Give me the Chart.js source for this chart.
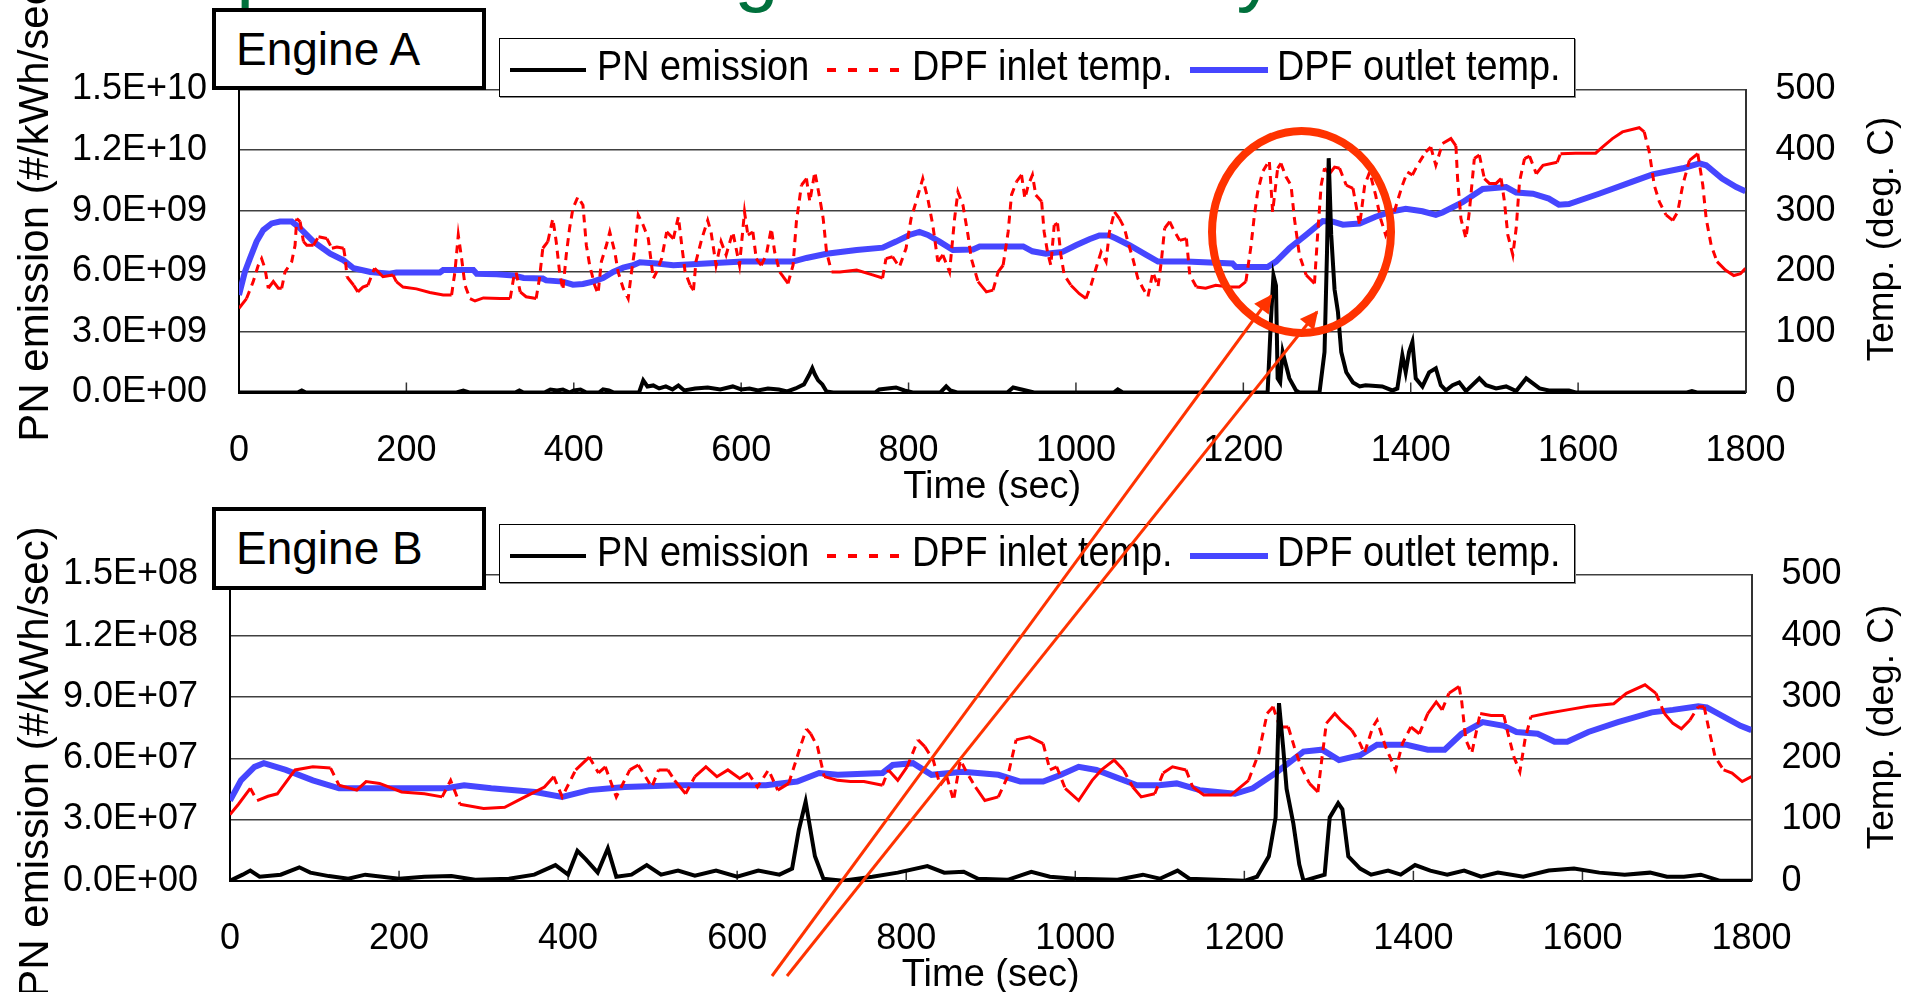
<!DOCTYPE html>
<html lang="en">
<head>
<meta charset="utf-8">
<title>PN emission and DPF temperatures</title>
<script src="https://cdn.jsdelivr.net/npm/chart.js@4.4.1/dist/chart.umd.min.js"></script>
<style>
    html, body { margin: 0; padding: 0; background: #fff; }
    body { position: relative; width: 1913px; height: 992px; overflow: hidden;
           font-family: "Liberation Sans", Arial, sans-serif; color: #000; }
    canvas { position: absolute; left: 0; }
    #chartA { top: 0; }
    #chartB { top: 500px; }
    #slideTitle { position: absolute; left: 85px; top: -71px; font-size: 80px; line-height: 80px;
                  color: #00703c; white-space: nowrap; }
    .engine { position: absolute; left: 212px; width: 274px; box-sizing: border-box; border: 4px solid #000;
              background: #fff; font-size: 46px; line-height: 74px; padding-left: 20px; white-space: nowrap; }
    .legend { position: absolute; left: 499px; width: 1076px; height: 59px; box-sizing: border-box;
              border: 1px solid #000; box-shadow: 1px 1px 0 #888; background: #fff; }
    .legend span { position: absolute; top: 6px; font-size: 42px; line-height: 42px; white-space: nowrap;
                   transform: scaleX(0.9); transform-origin: left center; }
    .legend svg { position: absolute; top: 0; }
    .ytitle { position: absolute; white-space: nowrap; line-height: 1;
              transform: translate(-50%, -50%) rotate(-90deg); }
    #notes { position: absolute; left: 0; top: 0; }
</style>
</head>
<body>
<div id="slideTitle">Temperature during the WHTC cycle</div>

<canvas id="chartA" width="1913" height="510"></canvas>
<canvas id="chartB" width="1913" height="500"></canvas>

<script>
// Series names and axis texts
const seriesNames = ['PN emission', 'DPF inlet temp.', 'DPF outlet temp.'];
const xTitle = 'Time (sec)';
const leftTitle = 'PN emission (#/kWh/sec)';
const rightTitle = 'Temp. (deg. C)';

// Engine A -- [time s, value]; PN in 1E+09 #/kWh/sec, temps in deg C
const pnA = [
    [0,0],[70,0],[75,0.1],[80,0],[260,0],[268,0.1],[275,0],[330,0],[335,0.1],[340,0],[365,0],[372,0.15],
    [380,0.1],[387,0.15],[395,0],[400,0.1],[408,0.15],[415,0],[430,0],[435,0.15],[442,0.1],[448,0],[478,0],
    [483,0.6],[488,0.3],[495,0.35],[502,0.2],[510,0.3],[518,0.15],[525,0.35],[532,0.1],[545,0.2],[560,0.25],
    [575,0.15],[590,0.3],[600,0.15],[610,0.2],[620,0.1],[632,0.2],[645,0.15],[655,0.05],[665,0.2],[675,0.4],
    [681,0.85],[685,1.2],[688,0.9],[692,0.6],[697,0.4],[702,0.05],[710,0],[760,0],[765,0.15],[775,0.2],
    [785,0.25],[795,0.1],[805,0],[838,0],[845,0.3],[850,0.1],[858,0],[918,0],[925,0.25],[930,0.2],[940,0.1],
    [950,0],[1045,0],[1050,0.15],[1056,0],[1229,0],[1233,3.6],[1236,5.8],[1239,5.3],[1241,0.7],[1244,0.5],
    [1247,2.0],[1251,1.35],[1255,0.7],[1263,0.1],[1267,0],[1291,0],[1297,2.0],[1300,7.0],[1302,11.6],
    [1305,7.8],[1309,5.1],[1313,4.0],[1317,2.0],[1323,1.0],[1331,0.5],[1339,0.3],[1346,0.36],[1366,0.3],
    [1378,0.1],[1384,0.2],[1390,1.85],[1394,1.0],[1398,2.0],[1402,2.5],[1406,0.7],[1414,0.3],[1422,1.0],
    [1430,1.2],[1436,0.36],[1442,0.1],[1450,0.36],[1458,0.5],[1466,0.07],[1482,0.7],[1490,0.36],[1502,0.2],
    [1514,0.3],[1526,0.07],[1538,0.7],[1546,0.45],[1554,0.2],[1565,0.1],[1589,0.1],[1597,0],[1730,0],
    [1736,0.07],[1742,0],[1800,0]
];
const inletA = [
    [0,139],[9,155],[17,183],[23,210],[27,221],[31,205],[35,172],[41,183],[47,172],[51,172],[55,199],[63,216],
    [67,243],[69,287],[73,282],[77,249],[81,243],[89,243],[95,257],[105,254],[111,238],[117,240],[125,238],
    [127,221],[129,191],[137,177],[142,166],[148,174],[154,177],[162,205],[172,191],[184,194],[188,183],
    [196,174],[212,171],[228,165],[244,161],[254,161],[258,199],[262,260],[266,221],[270,177],[276,155],
    [282,151],[292,156],[312,155],[324,155],[328,188],[331,199],[336,166],[343,158],[355,155],[359,188],
    [363,238],[369,249],[375,287],[379,249],[383,199],[387,169],[391,227],[395,271],[399,304],[405,323],
    [411,309],[415,243],[419,210],[425,177],[429,163],[433,216],[439,243],[443,265],[449,232],[453,199],
    [459,172],[465,155],[469,199],[473,238],[477,293],[483,276],[489,254],[495,188],[499,199],[505,221],
    [511,265],[519,254],[525,290],[529,243],[533,199],[539,177],[543,169],[546,216],[553,254],[560,284],
    [564,265],[570,210],[576,249],[582,227],[590,265],[598,210],[604,298],[608,260],[614,265],[618,221],
    [624,210],[630,227],[636,271],[640,232],[646,199],[656,180],[662,210],[666,282],[672,342],[678,353],
    [682,315],[688,364],[694,320],[698,287],[702,232],[708,199],[718,199],[738,202],[757,194],[769,189],
    [773,221],[781,224],[789,207],[797,238],[803,287],[809,315],[817,353],[823,320],[829,276],[835,216],
    [841,227],[849,199],[855,287],[859,331],[865,309],[871,260],[875,221],[883,183],[893,166],[901,169],
    [907,199],[913,210],[919,265],[923,326],[929,348],[935,359],[939,320],[943,342],[948,359],[952,326],
    [959,315],[962,265],[966,232],[970,210],[974,276],[978,279],[982,227],[986,194],[994,177],[1004,163],
    [1012,155],[1018,177],[1024,205],[1030,232],[1036,216],[1040,265],[1046,298],[1052,287],[1058,271],
    [1062,249],[1068,221],[1074,188],[1080,172],[1086,158],[1092,199],[1098,174],[1102,216],[1106,271],
    [1112,282],[1118,265],[1124,251],[1132,254],[1136,194],[1144,174],[1155,172],[1167,177],[1183,174],
    [1195,174],[1203,183],[1209,240],[1213,290],[1217,330],[1223,364],[1231,383],[1235,298],[1241,370],
    [1245,378],[1251,356],[1257,342],[1261,287],[1267,227],[1275,194],[1285,180],[1289,265],[1293,342],
    [1297,370],[1303,361],[1309,372],[1315,370],[1323,342],[1331,337],[1339,276],[1345,342],[1351,364],
    [1358,326],[1364,287],[1370,260],[1378,287],[1384,315],[1390,342],[1396,364],[1402,359],[1408,375],
    [1418,397],[1424,405],[1430,375],[1438,411],[1448,419],[1454,407],[1456,353],[1460,287],[1466,254],
    [1470,298],[1476,386],[1482,392],[1488,353],[1494,345],[1502,345],[1508,353],[1512,315],[1516,260],
    [1522,227],[1526,271],[1530,348],[1536,386],[1542,390],[1550,361],[1558,375],[1575,380],[1579,394],
    [1597,395],[1621,395],[1629,405],[1641,419],[1653,430],[1673,437],[1679,430],[1685,397],[1691,342],
    [1697,315],[1705,293],[1713,284],[1719,298],[1725,342],[1733,383],[1743,394],[1749,342],[1753,287],
    [1759,243],[1766,216],[1776,202],[1786,193],[1794,196],[1800,205]
];
const outletA = [
    [0,161],[7,199],[13,221],[21,249],[29,268],[39,279],[49,282],[63,282],[73,271],[89,249],[109,229],
    [125,218],[137,205],[157,199],[180,196],[188,198],[240,198],[244,202],[280,202],[284,196],[308,195],
    [328,193],[340,189],[363,188],[367,185],[387,183],[399,178],[411,179],[423,183],[435,189],[447,199],
    [459,206],[471,210],[479,215],[499,213],[519,210],[558,213],[602,216],[662,216],[678,222],[702,229],
    [738,235],[769,239],[785,249],[801,260],[813,265],[823,260],[837,249],[853,235],[877,236],[885,241],
    [937,241],[948,233],[964,229],[984,232],[1000,243],[1016,253],[1028,259],[1040,259],[1048,254],
    [1064,243],[1084,227],[1098,216],[1132,216],[1187,213],[1191,207],[1229,207],[1239,216],[1255,238],
    [1275,260],[1295,283],[1307,282],[1319,277],[1339,279],[1358,290],[1378,299],[1394,303],[1414,299],
    [1430,293],[1438,297],[1462,314],[1486,336],[1514,339],[1526,330],[1546,328],[1565,320],[1577,310],
    [1589,311],[1625,328],[1665,348],[1689,360],[1725,370],[1745,378],[1753,375],[1772,353],[1789,339],
    [1800,332]
];

// Engine B -- PN in 1E+07 #/kWh/sec
const pnB = [
    [0,0],[15,0.3],[24,0.5],[35,0.2],[60,0.3],[82,0.66],[95,0.4],[117,0.23],[140,0.1],[160,0.3],[200,0.1],
    [230,0.2],[262,0.23],[290,0.05],[330,0.1],[360,0.3],[385,0.77],[400,0.3],[411,1.47],[421,1.05],[435,0.4],
    [447,1.59],[457,0.2],[475,0.3],[493,0.77],[510,0.3],[530,0.5],[550,0.25],[575,0.5],[600,0.2],[625,0.5],
    [650,0.3],[665,0.6],[673,2.5],[681,3.87],[692,1.2],[702,0.1],[725,0],[760,0.2],[790,0.4],[825,0.72],
    [845,0.4],[868,0.44],[885,0.1],[920,0.05],[948,0.44],[970,0.2],[1000,0.1],[1050,0.05],[1080,0.3],
    [1100,0.1],[1121,0.5],[1135,0.1],[1200,0],[1215,0.2],[1229,1.2],[1237,3.1],[1241,8.7],[1246,6.5],
    [1250,4.5],[1258,2.8],[1265,0.8],[1270,0],[1295,0.3],[1301,3.1],[1311,3.8],[1316,3.5],[1323,1.2],
    [1337,0.6],[1350,0.3],[1370,0.5],[1385,0.3],[1402,0.77],[1420,0.5],[1440,0.3],[1460,0.5],[1480,0.2],
    [1500,0.4],[1530,0.2],[1560,0.5],[1590,0.6],[1620,0.4],[1650,0.3],[1680,0.4],[1700,0.2],[1720,0.2],
    [1740,0.3],[1763,0],[1800,0]
];
const inletB = [
    [0,108],[10,125],[24,151],[32,131],[45,138],[56,142],[77,181],[98,186],[119,184],[129,156],[150,148],
    [161,162],[177,159],[203,145],[230,142],[251,137],[261,164],[272,125],[300,118],[325,120],[346,135],
    [372,153],[383,170],[393,137],[409,181],[425,202],[436,176],[444,186],[457,137],[473,181],[483,189],
    [499,153],[507,181],[518,181],[526,164],[539,142],[550,170],[563,186],[576,170],[589,181],[603,167],
    [613,176],[624,153],[637,181],[648,148],[661,159],[676,224],[682,248],[687,240],[695,219],[703,170],
    [719,164],[734,162],[750,162],[772,156],[779,181],[790,164],[801,186],[814,230],[822,219],[832,197],
    [840,156],[848,170],[856,131],[864,197],[872,176],[882,153],[893,131],[909,137],[920,170],[930,230],
    [946,235],[962,224],[970,181],[978,186],[988,151],[1004,131],[1020,164],[1031,181],[1046,197],
    [1057,181],[1068,153],[1078,137],[1094,142],[1104,176],[1115,186],[1131,181],[1139,153],[1152,140],
    [1184,140],[1205,164],[1217,208],[1227,273],[1234,284],[1242,251],[1252,251],[1259,219],[1267,186],
    [1277,159],[1287,145],[1292,202],[1297,257],[1307,273],[1314,262],[1327,246],[1337,224],[1342,208],
    [1352,251],[1357,262],[1367,219],[1379,181],[1387,224],[1397,251],[1407,240],[1417,273],[1427,292],
    [1434,279],[1442,306],[1454,317],[1457,295],[1462,230],[1469,208],[1479,273],[1492,270],[1507,270],
    [1512,240],[1519,202],[1526,178],[1532,230],[1539,268],[1557,273],[1582,279],[1607,285],[1637,289],
    [1652,306],[1674,320],[1687,306],[1697,273],[1707,257],[1717,248],[1727,262],[1737,284],[1744,284],
    [1749,251],[1757,202],[1767,181],[1777,176],[1789,162],[1800,170]
];
const outletB = [
    [0,131],[13,164],[29,186],[40,192],[66,181],[98,164],[129,151],[177,151],[256,151],[277,156],[309,151],
    [361,145],[393,137],[425,148],[467,153],[531,156],[634,156],[671,162],[697,176],[719,173],[772,176],
    [784,189],[808,192],[830,173],[867,178],[909,173],[935,162],[962,162],[983,173],[1004,186],[1025,181],
    [1046,170],[1073,156],[1099,156],[1120,159],[1147,148],[1189,142],[1210,151],[1237,176],[1270,211],
    [1292,214],[1312,197],[1337,205],[1357,222],[1392,222],[1417,214],[1437,214],[1457,240],[1482,259],
    [1507,253],[1522,243],[1547,240],[1567,227],[1582,227],[1607,243],[1642,259],[1682,275],[1707,279],
    [1737,285],[1747,283],[1767,268],[1787,253],[1800,246]
];

Chart.defaults.font.family = '"Liberation Sans", Arial, sans-serif';
Chart.defaults.color = '#000';

// Axis labels like 1.2E+10
function sci(v) {
    if (v === 0) return '0.0E+00';
    const e = Math.floor(Math.log10(v) + 1e-9);
    const m = v / Math.pow(10, e);
    return m.toFixed(1) + 'E+' + String(e).padStart(2, '0');
}

// Dashes only show on the steep parts of the inlet trace
function steepDash(c) {
    return Math.abs(c.p1.y - c.p0.y) > 1.5 * Math.abs(c.p1.x - c.p0.x) ? [8, 6] : undefined;
}

// Small tick marks pointing up from the time axis
const innerTicks = {
    id: 'innerTicks',
    beforeDatasetsDraw(chart) {
        const { ctx, chartArea, scales: { x } } = chart;
        ctx.save();
        ctx.strokeStyle = '#333';
        ctx.lineWidth = 1.5;
        x.ticks.forEach(t => {
            if (t.value <= 0 || t.value >= 1800) return;
            const px = x.getPixelForValue(t.value);
            ctx.beginPath();
            ctx.moveTo(px, chartArea.bottom);
            ctx.lineTo(px, chartArea.bottom - 10);
            ctx.stroke();
        });
        ctx.restore();
    }
};

function buildChart(id, o) {
    const toXY = (arr, k) => arr.map(p => ({ x: p[0], y: p[1] * k }));
    return new Chart(document.getElementById(id), {
        type: 'line',
        data: {
            datasets: [{
                label: seriesNames[0],
                data: toXY(o.pn, o.pnUnit),
                yAxisID: 'y',
                borderColor: '#000',
                borderWidth: 4,
                pointRadius: 0
            }, {
                label: seriesNames[1],
                data: toXY(o.inlet, 1),
                yAxisID: 'y1',
                borderColor: '#ff0000',
                borderWidth: 3,
                borderDash: [],
                pointRadius: 0,
                segment: { borderDash: steepDash }
            }, {
                label: seriesNames[2],
                data: toXY(o.outlet, 1),
                yAxisID: 'y1',
                borderColor: '#4646ff',
                borderWidth: 6,
                pointRadius: 0
            }]
        },
        options: {
            responsive: false,
            animation: false,
            devicePixelRatio: 1,
            layout: { padding: { top: o.top, left: 0, right: 0, bottom: 0 } },
            plugins: { legend: { display: false }, tooltip: { enabled: false } },
            scales: {
                x: {
                    type: 'linear', min: 0, max: 1800,
                    afterFit: s => { s.height = o.xh; },
                    ticks: { stepSize: 200, padding: 37, font: { size: 36 }, maxRotation: 0, autoSkip: false,
                             callback: v => String(v) },
                    grid: { display: true, drawOnChartArea: false, drawTicks: false },
                    border: { color: '#000', width: 2 },
                    title: { display: true, text: xTitle, font: { size: 38 }, padding: { top: 0, bottom: o.tpb } }
                },
                y: {
                    position: 'left', min: 0, max: o.pnMax,
                    afterFit: s => { s.width = o.lw; },
                    ticks: { stepSize: o.pnMax / 5, padding: 32, font: { size: 36 }, callback: v => sci(v) },
                    grid: { color: '#404040', lineWidth: 1.5, drawTicks: false },
                    border: { color: '#000', width: 2 }
                },
                y1: {
                    position: 'right', min: 0, max: 500,
                    afterFit: s => { s.width = o.rw; },
                    ticks: { stepSize: 100, padding: 30, font: { size: 36 } },
                    grid: { drawOnChartArea: false, drawTicks: false },
                    border: { color: '#333', width: 2 }
                }
            }
        },
        plugins: [innerTicks]
    });
}

buildChart('chartA', { pn: pnA, pnUnit: 1e9, pnMax: 1.5e10, inlet: inletA, outlet: outletA,
                       top: 89.5, xh: 117.5, lw: 239, rw: 167.5, tpb: 0 });
buildChart('chartB', { pn: pnB, pnUnit: 1e7, pnMax: 1.5e8, inlet: inletB, outlet: outletB,
                       top: 74.5, xh: 119.2, lw: 230, rw: 161.5, tpb: 2 });

// Engine label boxes, legends and rotated axis titles
function addEngineBox(text, top, height) {
    const d = document.createElement('div');
    d.className = 'engine';
    d.style.top = top + 'px';
    d.style.height = height + 'px';
    d.textContent = text;
    document.body.appendChild(d);
}

function addLegend(top) {
    const box = document.createElement('div');
    box.className = 'legend';
    box.style.top = top + 'px';
    const samples = [
        { x: 10, w: 76, stroke: '#000', width: 4, dash: '' },
        { x: 327, w: 74, stroke: '#ff0000', width: 4, dash: '9 12' },
        { x: 690, w: 78, stroke: '#4646ff', width: 6, dash: '' }
    ];
    const textLeft = [97, 412, 777];
    samples.forEach((s, i) => {
        const svg = document.createElementNS('http://www.w3.org/2000/svg', 'svg');
        svg.setAttribute('width', s.w);
        svg.setAttribute('height', 57);
        svg.style.left = s.x + 'px';
        svg.innerHTML = `<line x1="0" y1="31" x2="${s.w}" y2="31" stroke="${s.stroke}" stroke-width="${s.width}"`
            + (s.dash ? ` stroke-dasharray="${s.dash}"` : '') + '/>';
        box.appendChild(svg);
        const span = document.createElement('span');
        span.style.left = textLeft[i] + 'px';
        span.textContent = seriesNames[i];
        box.appendChild(span);
    });
    document.body.appendChild(box);
}

function addYTitle(text, cx, cy, size) {
    const d = document.createElement('div');
    d.className = 'ytitle';
    d.style.left = cx + 'px';
    d.style.top = cy + 'px';
    d.style.fontSize = size + 'px';
    d.textContent = text;
    document.body.appendChild(d);
}

addEngineBox('Engine A', 8, 82);
addEngineBox('Engine B', 507, 83);
addLegend(38);
addLegend(524);
addYTitle(leftTitle, 34, 206, 42);
addYTitle(leftTitle, 34, 762, 42);
addYTitle(rightTitle, 1880, 239, 37);
addYTitle(rightTitle, 1880, 727, 37);
</script>

<svg id="notes" width="1913" height="992">
    <defs>
        <marker id="head" viewBox="0 0 10 10" refX="9" refY="5" markerWidth="7" markerHeight="6" orient="auto">
            <path d="M0,0 L10,5 L0,10 z" fill="#ff3300"/>
        </marker>
    </defs>
    <ellipse cx="1301.5" cy="232" rx="89.5" ry="101" fill="none" stroke="#ff3300" stroke-width="8"/>
    <line x1="772" y1="976" x2="1271" y2="296" stroke="#ff3300" stroke-width="3" marker-end="url(#head)"/>
    <line x1="787" y1="976" x2="1317" y2="312" stroke="#ff3300" stroke-width="3" marker-end="url(#head)"/>
</svg>
</body>
</html>
